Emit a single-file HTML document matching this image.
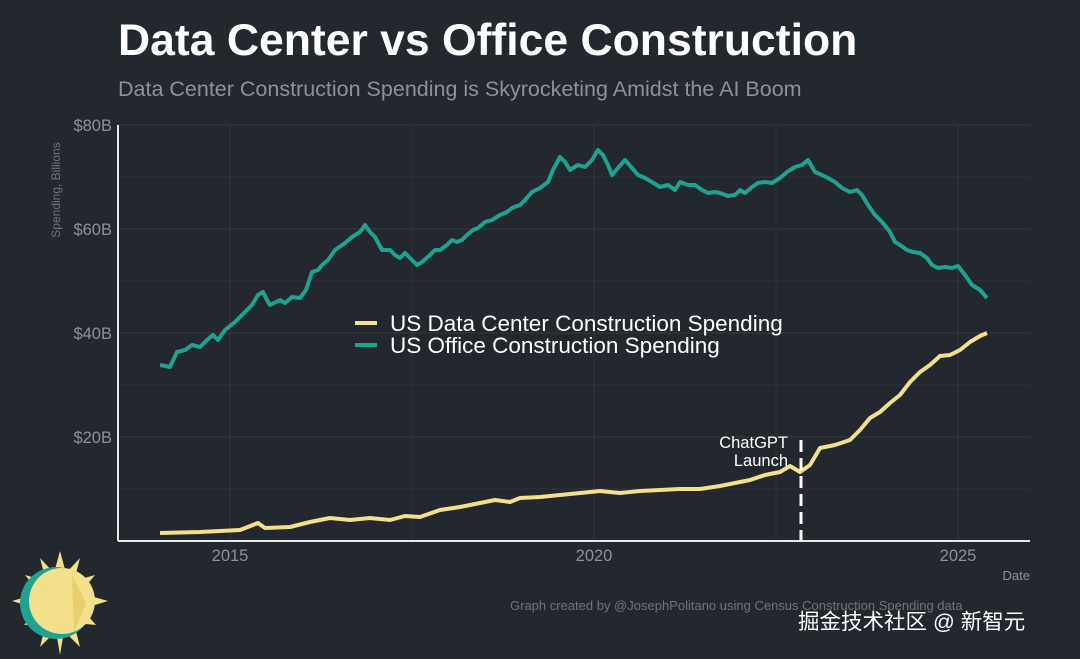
<!DOCTYPE html><html><head><meta charset="utf-8"><style>
body{margin:0;width:1080px;height:654px;background:#23272e;overflow:hidden;font-family:"Liberation Sans","Noto Sans CJK SC",sans-serif}
</style></head><body>
<svg width="1080" height="654" viewBox="0 0 1080 654" xmlns="http://www.w3.org/2000/svg" font-family="Liberation Sans, Noto Sans CJK SC, sans-serif">
<rect width="1080" height="654" fill="#23272e"/>
<text x="118" y="55" font-size="44.5" font-weight="bold" fill="#ffffff">Data Center vs Office Construction</text>
<text x="118" y="96" font-size="21.5" fill="#8d9198">Data Center Construction Spending is Skyrocketing Amidst the AI Boom</text>
<g stroke="#363b43" stroke-width="1">
<line x1="118" x2="1030" y1="125" y2="125"/><line x1="118" x2="1030" y1="229" y2="229"/><line x1="118" x2="1030" y1="333" y2="333"/><line x1="118" x2="1030" y1="437" y2="437"/>
<line x1="118" x2="1030" y1="177" y2="177" stroke="#2d3139"/><line x1="118" x2="1030" y1="281" y2="281" stroke="#2d3139"/><line x1="118" x2="1030" y1="385" y2="385" stroke="#2d3139"/><line x1="118" x2="1030" y1="489" y2="489" stroke="#2d3139"/>
<line x1="230" x2="230" y1="125" y2="541"/><line x1="594" x2="594" y1="125" y2="541"/><line x1="958" x2="958" y1="125" y2="541"/>
<line x1="412" x2="412" y1="125" y2="541" stroke="#2d3139"/><line x1="776" x2="776" y1="125" y2="541" stroke="#2d3139"/>
</g>
<line x1="118" y1="125" x2="118" y2="541" stroke="#e6e6e6" stroke-width="2"/>
<line x1="118" y1="541" x2="1030" y2="541" stroke="#e6e6e6" stroke-width="2"/>
<g font-size="16.5" fill="#8d9198" text-anchor="end">
<text x="112" y="131">$80B</text><text x="112" y="235">$60B</text><text x="112" y="339">$40B</text><text x="112" y="443">$20B</text>
</g>
<g font-size="16.5" fill="#8d9198" text-anchor="middle">
<text x="230" y="561">2015</text><text x="594" y="561">2020</text><text x="958" y="561">2025</text>
</g>
<text x="1030" y="580" font-size="13" fill="#8d9198" text-anchor="end">Date</text>
<text transform="translate(60,190) rotate(-90)" font-size="12" fill="#6f737a" text-anchor="middle">Spending, Billions</text>
<polyline fill="none" stroke="#1fa390" stroke-width="4" stroke-linejoin="round" points="160,365 170,367 177,352 185,350 192,345 200,347 207,340 213,335 218,340 225,330 235,322 245,312 252,305 258,295 263,292 267,300 270,305 280,300 285,303 292,297 300,298 306,290 312,272 318,270 322,265 328,260 335,250 345,243 352,237 360,232 365,225 370,232 375,237 382,250 390,250 395,255 400,258 405,253 410,258 417,265 422,262 430,255 435,250 440,250 447,245 452,240 457,242 462,240 467,235 473,230 478,228 485,222 492,220 500,215 507,212 512,208 520,205 525,200 532,192 540,188 548,182 553,170 560,157 565,162 570,170 578,165 585,167 592,160 598,150 603,155 608,165 612,175 618,168 625,160 632,168 638,175 645,178 652,182 660,187 668,185 675,190 680,182 688,185 695,185 702,190 708,193 715,192 720,193 728,196 735,195 740,190 745,193 752,187 758,183 765,182 772,183 780,178 787,172 795,167 802,165 808,160 815,172 822,175 828,178 835,182 842,188 850,192 857,190 862,195 868,205 875,215 882,222 890,232 895,242 900,245 907,250 913,252 920,253 927,258 932,265 938,268 945,267 952,268 958,266 965,275 972,285 980,290 987,298"/>
<polyline fill="none" stroke="#f2e08a" stroke-width="4" stroke-linejoin="round" points="160,533 200,532 240,530 258,523 265,528 290,527 310,522 330,518 350,520 370,518 390,520 405,516 420,517 440,510 460,507 480,503 495,500 510,502 520,498 540,497 560,495 580,493 600,491 620,493 640,491 660,490 680,489 700,489 720,486 740,482 750,480 765,475 780,472 790,466 800,472 810,465 820,448 835,445 850,440 860,430 870,418 880,412 890,403 900,395 910,382 920,372 930,365 940,356 950,355 960,350 970,342 980,336 987,333"/>
<line x1="801" y1="440" x2="801" y2="541" stroke="#ffffff" stroke-width="3" stroke-dasharray="12,6"/>
<text x="788" y="448" font-size="16.5" fill="#ffffff" text-anchor="end">ChatGPT</text>
<text x="788" y="466" font-size="16.5" fill="#ffffff" text-anchor="end">Launch</text>
<line x1="355" y1="323" x2="377" y2="323" stroke="#f2e08a" stroke-width="4"/>
<line x1="355" y1="345" x2="377" y2="345" stroke="#1fa390" stroke-width="4"/>
<text x="390" y="331" font-size="22.5" fill="#ffffff">US Data Center Construction Spending</text>
<text x="390" y="353" font-size="22.5" fill="#ffffff">US Office Construction Spending</text>
<text x="510" y="610" font-size="13" fill="#6f737a">Graph created by @JosephPolitano using Census Construction Spending data</text>
<text x="798" y="629" font-size="21.5" fill="#ffffff">掘金技术社区 @ 新智元</text>
<g transform="translate(60,603)">
<polygon points="0,-52 6,-30 20,-45 14,-22 35,-28 20,-10 48,-2 22,6 36,22 14,20 20,44 4,28 0,52 -4,28 -20,44 -14,20 -36,22 -22,6 -48,-2 -20,-10 -35,-28 -14,-22 -20,-45 -6,-30" fill="#f2e08a"/>
<circle cx="-4" cy="0" r="36" fill="#1fa390"/>
<circle cx="2" cy="-2" r="33" fill="#f2e08a"/>
<polygon points="12,-28 26,0 14,28" fill="#e6cf6e"/>
</g>
</svg>
</body></html>
